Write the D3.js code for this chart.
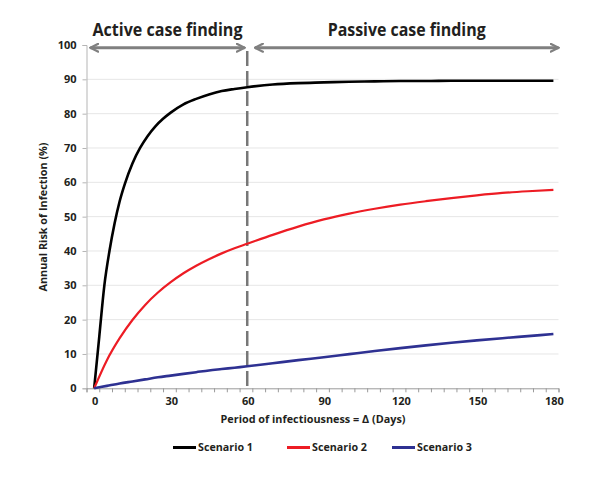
<!DOCTYPE html>
<html lang="en">
<head>
  <meta charset="utf-8" />
  <title>Annual Risk of Infection</title>
  <script src="https://cdn.jsdelivr.net/npm/d3@7"></script>
  <style>
body{
  margin: 0;
  background: #ffffff;
}
svg text{
  font-family: 'Open Sans', 'Noto Sans', sans-serif;
  font-weight: bold;
  fill: #231f20;
}
  </style>
</head>
<body>
  <svg id="chart"></svg>
  <script>
  // values
  const days1     = [0, 2, 4, 6, 8, 10, 12, 15, 18, 21, 24, 27, 30, 35, 40, 45, 50, 55, 60, 70, 80, 90, 100, 110, 120, 130, 140, 150, 160, 170, 180];
  const scenario1 = [0, 15, 30, 40, 48, 54.5, 59.5, 65.5, 70, 73.5, 76.3, 78.5, 80.3, 82.7, 84.3, 85.6, 86.6, 87.2, 87.7, 88.5, 88.9, 89.1, 89.3, 89.4, 89.5, 89.5, 89.6, 89.6, 89.6, 89.6, 89.6];

  const days      = [0, 5, 10, 15, 20, 25, 30, 35, 40, 45, 50, 55, 60, 70, 80, 90, 100, 110, 120, 130, 140, 150, 160, 170, 180];
  const scenario2 = [0, 8.2, 14.6, 19.9, 24.3, 27.9, 30.9, 33.5, 35.7, 37.6, 39.3, 40.8, 42.1, 44.7, 47.1, 49.2, 50.9, 52.3, 53.5, 54.5, 55.4, 56.2, 56.9, 57.4, 57.8];
  const scenario3 = [0, 0.7, 1.4, 2, 2.6, 3.2, 3.7, 4.2, 4.7, 5.2, 5.6, 6, 6.4, 7.3, 8.2, 9.05, 9.95, 10.85, 11.7, 12.5, 13.25, 13.95, 14.6, 15.2, 15.8];

  const seriesNames  = ['Scenario 1', 'Scenario 2', 'Scenario 3'];
  const seriesColors = ['#000000', '#ed1c24', '#2e3192'];

  const xTickLabels = [0, 30, 60, 90, 120, 150, 180];
  const yTickLabels = [0, 10, 20, 30, 40, 50, 60, 70, 80, 90, 100];
  const cutoffDay = 60;

  const phaseNames = ['Active case finding', 'Passive case finding'];
  const phaseStart = [-1.5, 63];
  const phaseEnd   = [59, 182];

  const width = 612, height = 480;

  const svg = d3.select('#chart')
      .attr('width', width)
      .attr('height', height);

  const x = d3.scaleLinear().domain([-3, 182]).range([86.5, 558.5]);
  const y = d3.scaleLinear().domain([0, 100]).range([388.3, 45]);

  // grid
  svg.append('g')
      .attr('stroke', '#e6e6e6')
      .attr('stroke-width', 1)
    .selectAll('line')
    .data(yTickLabels.filter(v => v > 0 && v < 100))
    .enter().append('line')
      .attr('x1', x(-3))
      .attr('x2', x(182))
      .attr('y1', d => y(d))
      .attr('y2', d => y(d));

  // y axis
  const yAxis = svg.append('g')
      .attr('transform', `translate(${x(-3)},0)`)
      .call(d3.axisLeft(y).tickValues(yTickLabels).tickSize(4).tickPadding(6));
  yAxis.select('.domain').attr('stroke', '#b5b5b5');
  yAxis.selectAll('.tick line').attr('stroke', '#b5b5b5');
  yAxis.selectAll('.tick text')
      .attr('font-size', 11)
      .attr('font-family', null)
      .attr('fill', '#231f20');

  // x axis: minor ticks every 5 days, labels every 30
  const xAxis = svg.append('g')
      .attr('transform', `translate(0,${y(0)})`)
      .call(d3.axisBottom(x).tickValues(d3.range(-3, 183, 5)).tickSize(4).tickFormat(''));
  xAxis.select('.domain').attr('stroke', '#9a9a9a');
  xAxis.selectAll('.tick line').attr('stroke', '#9a9a9a');

  svg.append('g')
    .selectAll('text')
    .data(xTickLabels)
    .enter().append('text')
      .attr('x', d => x(d) + 1)
      .attr('y', 405)
      .attr('text-anchor', 'middle')
      .attr('font-size', 11)
      .text(d => d);

  // cutoff between active and passive case finding
  svg.append('line')
      .attr('x1', x(cutoffDay))
      .attr('x2', x(cutoffDay))
      .attr('y1', y(100) + 6)
      .attr('y2', y(0))
      .attr('stroke', '#777777')
      .attr('stroke-width', 2.5)
      .attr('stroke-dasharray', '15,5');

  // phase arrows
  const defs = svg.append('defs');
  defs.append('marker')
      .attr('id', 'head')
      .attr('viewBox', '0 0 10 10')
      .attr('refX', 9)
      .attr('refY', 5)
      .attr('markerWidth', 10)
      .attr('markerHeight', 10)
      .attr('markerUnits', 'userSpaceOnUse')
      .attr('orient', 'auto-start-reverse')
    .append('path')
      .attr('d', 'M1,1 L9,5 L1,9')
      .attr('fill', 'none')
      .attr('stroke', '#808080')
      .attr('stroke-width', 2.2)
      .attr('stroke-linecap', 'round');

  const arrowY = 47.7;
  phaseNames.forEach((name, i) => {
    const x0 = x(phaseStart[i]), x1 = x(phaseEnd[i]);
    svg.append('line')
        .attr('x1', x0)
        .attr('x2', x1)
        .attr('y1', arrowY)
        .attr('y2', arrowY)
        .attr('stroke', '#808080')
        .attr('stroke-width', 3)
        .attr('marker-start', 'url(#head)')
        .attr('marker-end', 'url(#head)');
    svg.append('text')
        .attr('x', (x0 + x1) / 2)
        .attr('y', 36)
        .attr('text-anchor', 'middle')
        .attr('font-size', 18)
        .attr('textLength', i == 0 ? 150 : 158)
        .attr('lengthAdjust', 'spacingAndGlyphs')
        .text(name);
  });

  // scenario lines
  const series = [
    {days: days1, values: scenario1},
    {days: days,  values: scenario2},
    {days: days,  values: scenario3}
  ];

  svg.append('g')
      .attr('fill', 'none')
    .selectAll('path')
    .data(series)
    .enter().append('path')
      .attr('d', s => d3.line()
          .x((d, i) => x(s.days[i]))
          .y(d => y(d))
          .curve(d3.curveMonotoneX)(s.values))
      .attr('stroke', (d, i) => seriesColors[i])
      .attr('stroke-width', (d, i) => i == 1 ? 2.2 : 2.6)
      .attr('stroke-linejoin', 'round');

  // axis titles
  svg.append('text')
      .attr('x', 313)
      .attr('y', 423)
      .attr('text-anchor', 'middle')
      .attr('font-size', 11)
      .attr('textLength', 185)
      .attr('lengthAdjust', 'spacingAndGlyphs')
      .text('Period of infectiousness = Δ (Days)');

  svg.append('text')
      .attr('transform', 'translate(47,217) rotate(-90)')
      .attr('text-anchor', 'middle')
      .attr('font-size', 10.5)
      .attr('textLength', 149)
      .attr('lengthAdjust', 'spacingAndGlyphs')
      .text('Annual Risk of Infection (%)');

  // legend
  const legendX = [173, 287, 392];
  const legend = svg.append('g')
    .selectAll('g')
    .data(seriesNames)
    .enter().append('g')
      .attr('transform', (d, i) => `translate(${legendX[i]},447.5)`);

  legend.append('line')
      .attr('x1', 0)
      .attr('x2', 23)
      .attr('stroke', (d, i) => seriesColors[i])
      .attr('stroke-width', 3);

  legend.append('text')
      .attr('x', 25)
      .attr('dy', '0.35em')
      .attr('font-size', 11)
      .attr('textLength', 55)
      .attr('lengthAdjust', 'spacingAndGlyphs')
      .text(d => d);
  </script>
</body>
</html>
